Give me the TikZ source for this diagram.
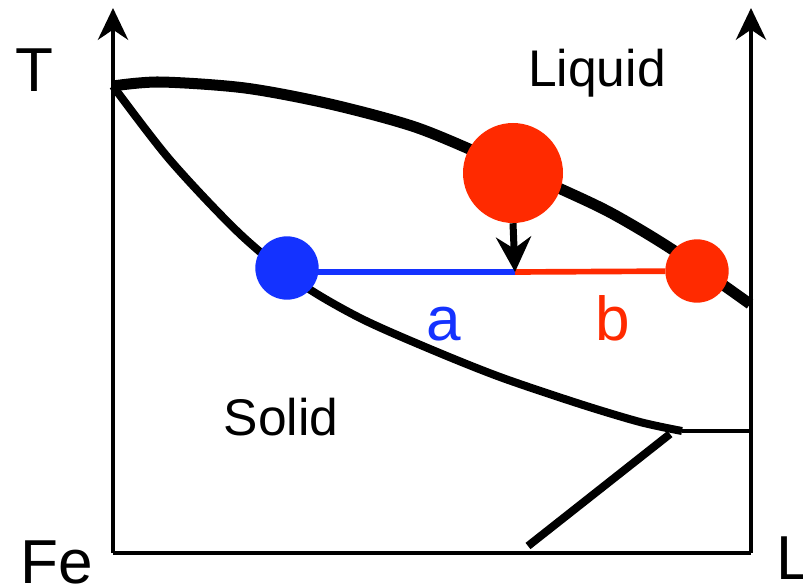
\documentclass[tikz,border=0pt]{standalone}
\usepackage{fontspec}
\setmainfont{Liberation Sans}
\usepackage{tikz}
\usetikzlibrary{arrows.meta, positioning, calc}
\definecolor{phred}{RGB}{255,42,0}
\definecolor{phblue}{RGB}{20,50,255}
\tikzset{
  axis/.style={line width=0.14cm, -{Stealth[length=0.95cm, width=0.9cm, inset=0.3cm]}},
  frame/.style={line width=0.14cm},
  liqline/.style={line width=0.33cm, line join=round},
  solline/.style={line width=0.24cm, line join=round},
  bigtxt/.style={font=\fontsize{53}{60}\selectfont, anchor=base},
  regtxt/.style={font=\fontsize{44}{50}\selectfont, anchor=base},
  dot/.style={circle, inner sep=0pt, minimum size=#1},
  tie/.style={line width=0.17cm}
}

\begin{document}
\begin{tikzpicture}[x=0.03cm, y=-0.03cm]
  \useasboundingbox (0,0) rectangle (803,587);
  % Axes
  \coordinate (o) at (113,553);
  \coordinate (r) at (751,553);
  \coordinate (ltop) at (113,8);
  \coordinate (rtop) at (751,8);
  \draw[frame] (o) -- (r);
  \draw[axis] (o) -- (ltop);
  \draw[axis] (r) -- (rtop);
  \node[bigtxt] (tlab) at (34,91) {T};
  \node[bigtxt, anchor=base west] (felab) at (16,583) {Fe};
  \node[bigtxt, anchor=base west] (llab) at (772,579) {L};
  % Liquidus and solidus
  \coordinate (melt) at (113,86);
  \coordinate (eut) at (682,431);
  \draw[liqline] plot[smooth, tension=0.5] coordinates {(melt) (160,82) (245,88) (330,104) (415,127) (490,158) (563,190) (613,214) (673,250) (750,304)};
  \draw[solline] plot[smooth, tension=0.5] coordinates {(melt) (170,160) (240,234) (300,283) (360,318) (430,349) (500,377) (580,404) (640,422) (eut)};
  \coordinate (reye) at (751,431);
  \draw[line width=0.1cm] (eut) -- (reye);
  \coordinate (dtop) at (670,434);
  \coordinate (dbot) at (528,546);
  \draw[solline] (dtop) -- (dbot);
  % Regions
  \node[regtxt] (liq) at (597,86) {Liquid};
  \node[regtxt] (sol) at (281,435) {Solid};
  % Lever rule
  \node[dot=1.9cm, fill=phblue] (solpt) at (287,268) {};
  \node[dot=1.9cm, fill=phred] (liqpt) at (697,271) {};
  \node[dot=3.0cm, fill=phred] (start) at (513,173) {};
  \coordinate (split) at (515,272);
  \draw[tie, phblue] (solpt.center) ++(30,4) coordinate (bs) (bs) -- (split);
  \draw[tie, phred] (split) -- (liqpt);
  \draw[line width=0.21cm, -{Stealth[length=1.05cm, width=1.05cm, inset=0.35cm]}] (start.south) -- (split);
  \node[font=\fontsize{53}{60}\selectfont, anchor=base, text=phblue] (alab) at (444,340) {a};
  \node[font=\fontsize{53}{60}\selectfont, anchor=base, text=phred] (blab) at (613,340) {b};
\end{tikzpicture}
\end{document}
